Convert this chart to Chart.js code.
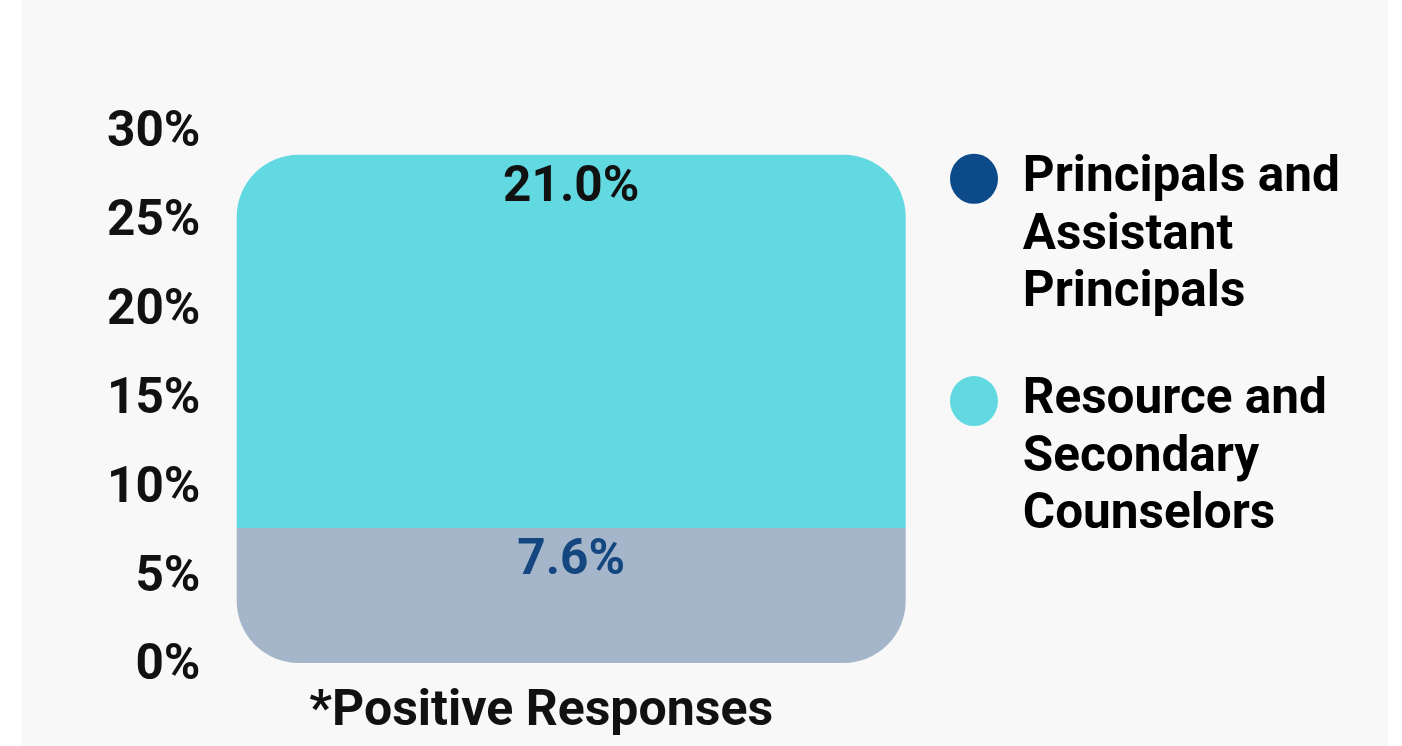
<!DOCTYPE html>
<html>
<head>
<meta charset="utf-8">
<title>Positive Responses</title>
<script src="https://cdn.jsdelivr.net/npm/chart.js@4.4.1/dist/chart.umd.min.js"></script>
<style>
  html, body { margin: 0; padding: 0; background: #ffffff; }
  #panel {
    position: absolute; left: 22px; top: 0; width: 1366px; height: 746px;
    background: #f8f8f8;
  }
  #wrap { position: absolute; left: 0; top: 0; width: 1402px; height: 746px; }
</style>
</head>
<body>
<div id="panel"></div>
<div id="wrap"><canvas id="chart" width="1402" height="746"></canvas></div>
<script>
// Survey share of positive responses by staff group
const categories = ['*Positive Responses'];
const seriesNames = [
  ['Principals and', 'Assistant', 'Principals'],
  ['Resource and', 'Secondary', 'Counselors']
];
const principalsValues = [7.6];
const counselorsValues = [21.0];
const yTicks = [0, 5, 10, 15, 20, 25, 30];

const barColors = ['#a5b6ca', '#62d9e0'];
const legendColors = ['#0d4a89', '#62d9e0'];
const labelColors = ['#14477f', '#111111'];

const FONT = 'Roboto, "Noto Sans", sans-serif';
const TEXT_SIZE = 49.5;

// Value labels written just inside the top edge of each stacked segment
const segmentLabels = {
  id: 'segmentLabels',
  afterDatasetsDraw(chart) {
    const ctx = chart.ctx;
    ctx.save();
    ctx.font = 'bold ' + TEXT_SIZE + 'px ' + FONT;
    ctx.textAlign = 'center';
    ctx.textBaseline = 'middle';
    chart.data.datasets.forEach((ds, i) => {
      const meta = chart.getDatasetMeta(i);
      meta.data.forEach((bar, j) => {
        ctx.fillStyle = labelColors[i];
        ctx.fillText(ds.data[j].toFixed(1) + '%', bar.x, bar.y + 34);
      });
    });
    ctx.restore();
  }
};

new Chart(document.getElementById('chart'), {
  type: 'bar',
  data: {
    labels: categories,
    datasets: [
      {
        label: seriesNames[0],
        data: principalsValues,
        backgroundColor: barColors[0],
        borderSkipped: false,
        clip: false,
        borderRadius: { topLeft: 0, topRight: 0, bottomLeft: 62, bottomRight: 62 }
      },
      {
        label: seriesNames[1],
        data: counselorsValues,
        backgroundColor: barColors[1],
        borderSkipped: false,
        clip: false,
        borderRadius: { topLeft: 62, topRight: 62, bottomLeft: 0, bottomRight: 0 }
      }
    ]
  },
  options: {
    responsive: false,
    animation: false,
    layout: { padding: { top: 104, left: 65, right: 62, bottom: 0 } },
    datasets: { bar: { barThickness: 669, inflateAmount: 0 } },
    scales: {
      x: {
        stacked: true,
        grid: { display: false, drawTicks: false },
        border: { display: false },
        afterFit(scale) {
          scale.height = 83;
          scale.paddingLeft = 0;
          scale.paddingRight = 0;
        },
        ticks: {
          color: '#111111',
          padding: 19,
          labelOffset: -30,
          font: { family: FONT, size: 50, weight: 'bold' }
        }
      },
      y: {
        stacked: true,
        min: 0,
        max: 30,
        grid: { display: false, drawTicks: false },
        border: { display: false },
        afterFit(scale) { scale.paddingTop = 130; },
        afterBuildTicks(scale) { scale.ticks = yTicks.map(v => ({ value: v })); },
        ticks: {
          color: '#111111',
          padding: 42,
          labelOffset: 4,
          font: { family: FONT, size: TEXT_SIZE, weight: 'bold' },
          callback: v => v + '%'
        }
      }
    },
    plugins: {
      tooltip: { enabled: false },
      legend: {
        position: 'right',
        align: 'start',
        maxWidth: 440,
        labels: {
          usePointStyle: true,
          pointStyle: 'circle',
          boxHeight: 35.4,
          pointStyleWidth: 48,
          padding: 50,
          color: '#111111',
          font: { family: FONT, size: TEXT_SIZE, weight: 'bold', lineHeight: 1.16 },
          generateLabels(chart) {
            return chart.data.datasets.map((ds, i) => ({
              text: ds.label,
              fillStyle: legendColors[i],
              strokeStyle: legendColors[i],
              lineWidth: 0,
              pointStyle: 'circle',
              hidden: false,
              datasetIndex: i
            }));
          }
        }
      }
    }
  },
  plugins: [segmentLabels]
});
</script>
</body>
</html>
